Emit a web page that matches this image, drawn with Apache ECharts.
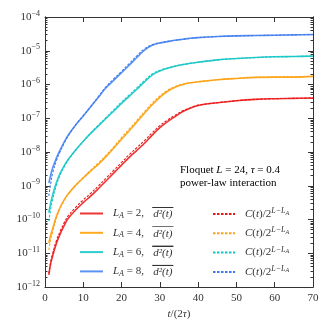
<!DOCTYPE html>
<html>
<head>
<meta charset="utf-8">
<script src="https://cdn.jsdelivr.net/npm/echarts@6/dist/echarts.min.js"></script>
<style>
  html, body { margin: 0; background: #fff; }
  #chart { width: 332px; height: 332px; }
</style>
</head>
<body>
<div id="chart"></div>
<script>
  // t/(2tau) sample points
  const times = [1, 1.5, 2, 3, 4, 5, 6, 8, 10, 12, 14, 16, 18, 20, 22, 24, 26, 28, 30, 32, 34, 36, 38, 40, 45, 50, 55, 60, 65, 70];
  // log10 of the values: overline d^2(t)
  const d2_LA2 = [-11.64, -11.3, -11.08, -10.7, -10.42, -10.18, -9.98, -9.72, -9.5, -9.3, -9.08, -8.85, -8.62, -8.39, -8.16, -7.95, -7.74, -7.5, -7.28, -7.1, -6.95, -6.8, -6.7, -6.62, -6.54, -6.48, -6.44, -6.42, -6.41, -6.4];
  const d2_LA4 = [-10.7, -10.45, -10.27, -9.9, -9.63, -9.42, -9.25, -8.99, -8.77, -8.56, -8.36, -8.13, -7.88, -7.62, -7.37, -7.11, -6.85, -6.6, -6.38, -6.2, -6.08, -6.0, -5.95, -5.92, -5.86, -5.82, -5.79, -5.78, -5.78, -5.76];
  const d2_LA6 = [-9.8, -9.5, -9.27, -8.9, -8.62, -8.41, -8.23, -7.94, -7.68, -7.44, -7.22, -7.0, -6.78, -6.56, -6.35, -6.14, -5.92, -5.72, -5.6, -5.52, -5.46, -5.41, -5.37, -5.34, -5.27, -5.23, -5.2, -5.18, -5.17, -5.16];
  const d2_LA8 = [-8.92, -8.68, -8.47, -8.17, -7.93, -7.71, -7.51, -7.2, -6.93, -6.65, -6.37, -6.09, -5.87, -5.65, -5.43, -5.2, -4.98, -4.84, -4.77, -4.73, -4.69, -4.66, -4.63, -4.61, -4.58, -4.56, -4.55, -4.54, -4.53, -4.52];
  // log10 of C(t)/2^(L-L_A)
  const c_LA2 = [-11.6, -11.24, -11.01, -10.62, -10.34, -10.1, -9.9, -9.64, -9.42, -9.22, -9.0, -8.77, -8.54, -8.31, -8.08, -7.87, -7.66, -7.43, -7.22, -7.05, -6.91, -6.78, -6.69, -6.61, -6.54, -6.48, -6.44, -6.42, -6.41, -6.4];
  const c_LA4 = [-10.9, -10.58, -10.36, -9.95, -9.66, -9.44, -9.26, -8.98, -8.75, -8.53, -8.32, -8.09, -7.84, -7.57, -7.32, -7.06, -6.8, -6.55, -6.34, -6.17, -6.06, -5.99, -5.95, -5.92, -5.86, -5.82, -5.79, -5.78, -5.77, -5.76];
  const c_LA6 = [-10.05, -9.68, -9.4, -8.97, -8.67, -8.44, -8.25, -7.95, -7.68, -7.43, -7.2, -6.97, -6.75, -6.52, -6.31, -6.1, -5.88, -5.69, -5.58, -5.51, -5.45, -5.41, -5.37, -5.34, -5.27, -5.23, -5.2, -5.18, -5.17, -5.16];
  const c_LA8 = [-9.3, -8.92, -8.62, -8.25, -7.98, -7.74, -7.53, -7.2, -6.92, -6.64, -6.35, -6.06, -5.83, -5.61, -5.38, -5.15, -4.94, -4.82, -4.76, -4.72, -4.69, -4.66, -4.63, -4.61, -4.58, -4.56, -4.55, -4.54, -4.53, -4.52];
  const subsystems = [2, 4, 6, 8];
  const xTicks = [0, 10, 20, 30, 40, 50, 60, 70];
  const yDecades = [-12, -11, -10, -9, -8, -7, -6, -5, -4];

  const solidColors = ['#ef3434', '#ffa91f', '#2dcdcd', '#5a92f4'];
  const dashColors = ['#e81616', '#f7a21c', '#12c6c6', '#3d78ee'];
  const font = 'Liberation Serif';
  const ink = '#333';

  function pairs(logs) {
    return times.map((t, i) => [t, Math.pow(10, logs[i])]);
  }

  const solidData = [d2_LA2, d2_LA4, d2_LA6, d2_LA8];
  const dashData = [c_LA2, c_LA4, c_LA6, c_LA8];

  let series = [];
  subsystems.forEach((la, i) => {
    series.push({
      name: 'a' + la, type: 'line', smooth: 0.4, showSymbol: false, symbol: 'none',
      data: pairs(solidData[i]),
      lineStyle: {color: solidColors[i], width: 1.6},
      itemStyle: {color: solidColors[i]}
    });
  });
  subsystems.forEach((la, i) => {
    series.push({
      name: 'c' + la, type: 'line', smooth: 0.4, showSymbol: false, symbol: 'none',
      data: pairs(dashData[i]),
      lineStyle: {color: dashColors[i], width: 1.1, type: [2.5, 1.5]},
      itemStyle: {color: dashColors[i]}
    });
  });

  // minor ticks 2..9 within each decade
  let minorVals = [];
  yDecades.slice(0, -1).forEach(k => {
    for (let m = 2; m <= 9; m++) minorVals.push(m * Math.pow(10, k));
  });
  const majorVals = yDecades.map(k => Math.pow(10, k));

  const overline = {
    type: 'linear', x: 0, y: 0, x2: 0, y2: 1,
    colorStops: [
      {offset: 0, color: ink}, {offset: 0.07, color: ink},
      {offset: 0.07, color: 'rgba(0,0,0,0)'}, {offset: 1, color: 'rgba(0,0,0,0)'}
    ]
  };
  const rich = {
    n: {fontFamily: font, fontSize: 11, color: ink},
    it: {fontFamily: font, fontSize: 11, fontStyle: 'italic', color: ink},
    lead: {fontFamily: font, fontSize: 11, fontStyle: 'italic', color: ink, padding: [0, 0, 0, 5]},
    sub: {fontFamily: font, fontSize: 8, fontStyle: 'italic', color: ink, padding: [5, 0, 0, 0]},
    sup: {fontFamily: font, fontSize: 8, fontStyle: 'italic', color: ink, padding: [0, 0, 6, 0]},
    supsub: {fontFamily: font, fontSize: 6, fontStyle: 'italic', color: ink, padding: [0, 0, 2, 0]},
    ov: {fontFamily: font, fontSize: 11, fontStyle: 'italic', color: ink, padding: [2, 1, 0, 1], backgroundColor: overline}
  };

  function yAxisDef(pos, values, len, labels) {
    return {
      type: 'log', logBase: 10, min: 1e-12, max: 1e-4, position: pos,
      axisLine: {show: true, lineStyle: {color: ink, width: 1}},
      axisTick: {show: true, inside: true, length: len, customValues: values, lineStyle: {color: ink}},
      axisLabel: labels ? {
        show: true, customValues: majorVals, margin: 5,
        formatter: v => '{b|10}{s|\u2212' + Math.round(-Math.log10(v)) + '}',
        rich: {
          b: {fontFamily: font, fontSize: 11, color: ink},
          s: {fontFamily: font, fontSize: 8, color: ink, padding: [0, 0, 7, 0]}
        }
      } : {show: false},
      splitLine: {show: false}
    };
  }

  function xAxisDef(pos, labels) {
    return {
      type: 'value', min: 0, max: 70, interval: 10, position: pos,
      name: labels ? '{it|t}{n|/(2}{it|\u03c4}{n|)}' : '',
      nameLocation: 'middle', nameGap: 21,
      nameTextStyle: {rich: rich},
      axisLine: {show: true, onZero: false, lineStyle: {color: ink, width: 1}},
      axisTick: {show: true, inside: true, length: 5, customValues: xTicks.slice(1, -1), lineStyle: {color: ink}},
      axisLabel: {show: labels, fontFamily: font, fontSize: 11, color: ink, margin: 6},
      splitLine: {show: false}
    };
  }

  const chart = echarts.init(document.getElementById('chart'));
  chart.setOption({
    backgroundColor: '#fff',
    animation: false,
    grid: {left: 45, right: 19, top: 17, bottom: 45},
    xAxis: [xAxisDef('bottom', true), xAxisDef('top', false)],
    yAxis: [
      yAxisDef('left', majorVals, 5, true),
      yAxisDef('left', minorVals, 2.5, false),
      yAxisDef('right', majorVals, 5, false),
      yAxisDef('right', minorVals, 2.5, false)
    ],
    legend: [
      {
        data: ['a2', 'a4', 'a6', 'a8'], orient: 'vertical', left: 79, top: 207,
        padding: 0, itemWidth: 23, itemHeight: 12, itemGap: 6.3,
        itemStyle: {opacity: 0},
        textStyle: {rich: rich, lineHeight: 12},
        formatter: name => '{lead|L}{sub|A}{n| = ' + name.slice(1) + ',   }{ov|d\u00b2(t)}'
      },
      {
        data: ['c2', 'c4', 'c6', 'c8'], orient: 'vertical', left: 212, top: 207,
        padding: 0, itemWidth: 22, itemHeight: 12, itemGap: 6.3,
        itemStyle: {opacity: 0},
        textStyle: {rich: rich, lineHeight: 12},
        formatter: () => '{lead|C}{n|(}{it|t}{n|)/2}{sup|L\u2212L}{supsub|A}'
      }
    ],
    graphic: [
      {
        type: 'text', left: 180, top: 165,
        style: {
          text: '{n|Floquet }{it|L}{n| = 24, }{it|\u03c4}{n| = 0.4}\n{n|power-law interaction}',
          rich: {
            n: {fontFamily: font, fontSize: 11, color: ink, lineHeight: 13},
            it: {fontFamily: font, fontSize: 11, fontStyle: 'italic', color: ink, lineHeight: 13}
          }
        }
      }
    ],
    series: series
  });
</script>
</body>
</html>
